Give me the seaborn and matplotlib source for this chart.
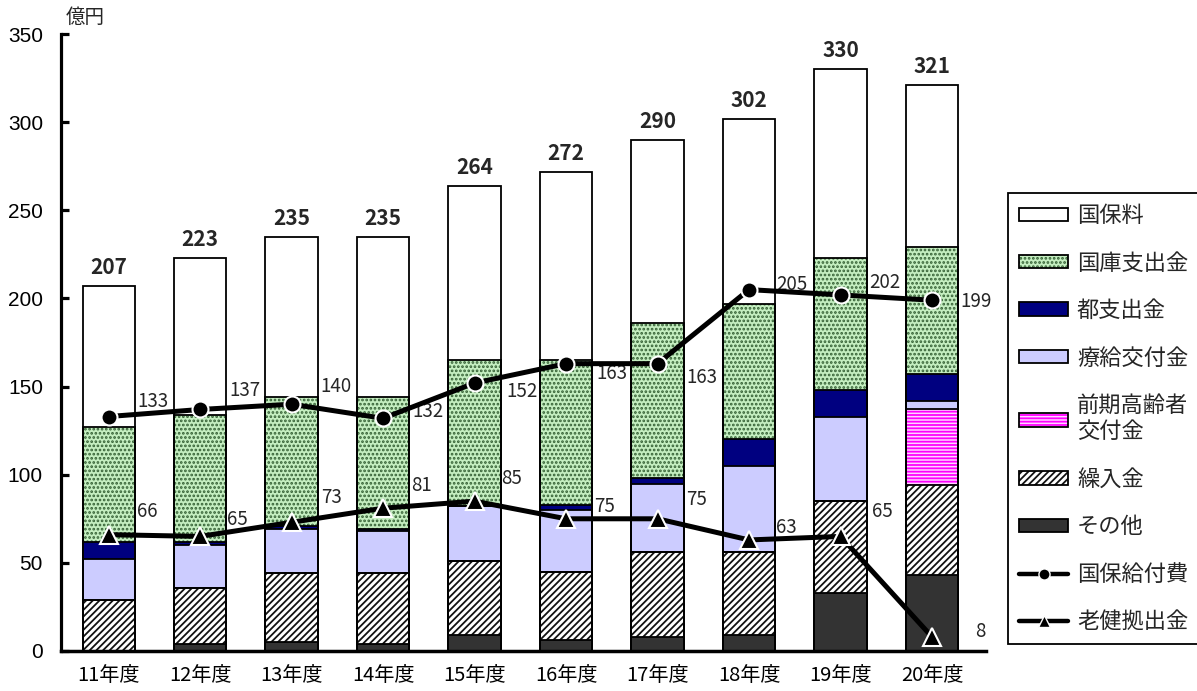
import numpy as np
import matplotlib
matplotlib.use("Agg")
import matplotlib.pyplot as plt
import seaborn as sns
from matplotlib.patches import Patch
from matplotlib.lines import Line2D
from matplotlib.legend_handler import HandlerTuple

# ---- data (億円) ----
years = ["11年度", "12年度", "13年度", "14年度", "15年度",
         "16年度", "17年度", "18年度", "19年度", "20年度"]
sonota = [0, 4, 5, 4, 9, 6, 8, 9, 33, 43]            # その他
kurikomi = [29, 32, 39, 40, 42, 39, 48, 47, 52, 51]  # 繰入金
zenki = [0, 0, 0, 0, 0, 0, 0, 0, 0, 43]              # 前期高齢者交付金
ryokyu = [23, 24, 25, 24, 31, 35, 39, 49, 48, 5]     # 療給交付金
to_shishutsu = [10, 2, 2, 1, 0, 3, 3, 15, 15, 15]    # 都支出金
kokko = [65, 72, 73, 75, 83, 82, 88, 77, 75, 72]     # 国庫支出金
kokuhoryo = [80, 89, 91, 91, 99, 107, 104, 105, 107, 92]  # 国保料
totals = [207, 223, 235, 235, 264, 272, 290, 302, 330, 321]
kyufuhi = [133, 137, 140, 132, 152, 163, 163, 205, 202, 199]  # 国保給付費
roken = [66, 65, 73, 81, 85, 75, 75, 63, 65, 8]               # 老健拠出金

# label offsets (points) for the line value labels
kyufuhi_off = [(32, 11), (32, 14), (32, 13), (32, 5), (34, -6), (33, -7),
               (32, -10), (31, 4), (32, 9), (32, -1)]
roken_off = [(28, 17), (27, 12), (29, 18), (28, 16), (27, 16), (28, 9),
             (28, 14), (27, 9), (30, 18), (35, 4)]

sns.set_theme(style="white")
plt.rcParams["font.family"] = ["Noto Sans CJK JP", "DejaVu Sans"]
plt.rcParams["hatch.linewidth"] = 1.3

fig = plt.figure(figsize=(11.97, 6.91), dpi=100)
ax = fig.add_axes([61 / 1197, 1 - 651 / 691, (986 - 61) / 1197, (651 - 34) / 691])

layers = [
    dict(label="その他", vals=sonota, face="#333333", hatch=None, hc=None),
    dict(label="繰入金", vals=kurikomi, face="white", hatch="/////", hc="#111111"),
    dict(label="前期高齢者\n交付金", vals=zenki, face="#ffd6ff", hatch="-----", hc="#ff00ff"),
    dict(label="療給交付金", vals=ryokyu, face="#ccccff", hatch=None, hc=None),
    dict(label="都支出金", vals=to_shishutsu, face="#000080", hatch=None, hc=None),
    dict(label="国庫支出金", vals=kokko, face="#c4eec0", hatch="....", hc="#335f33"),
    dict(label="国保料", vals=kokuhoryo, face="white", hatch=None, hc=None),
]

cum = np.cumsum(np.array([l["vals"] for l in layers], dtype=float), axis=0)
bar_w = 0.57

# filled segments: tallest cumulative first, each covering the part below
for k in reversed(range(len(layers))):
    l = layers[k]
    n0 = len(ax.patches)
    sns.barplot(x=years, y=cum[k], color=l["face"], saturation=1,
                width=bar_w, edgecolor=l["hc"] or l["face"], linewidth=0,
                errorbar=None, ax=ax, zorder=2)
    if l["hatch"]:
        for p in ax.patches[n0:]:
            p.set_hatch(l["hatch"])

# segment outlines
for k in range(len(layers)):
    sns.barplot(x=years, y=cum[k], color="black", fill=False, saturation=1,
                width=bar_w, linewidth=1.3, errorbar=None, ax=ax, zorder=3)

xpos = np.arange(len(years))

# benefit / contribution lines
sns.lineplot(x=xpos, y=kyufuhi, color="black", lw=3.6, marker="o", markersize=11.5,
             markerfacecolor="black", markeredgecolor="white", markeredgewidth=1.5,
             ax=ax, zorder=5, legend=False)
sns.lineplot(x=xpos, y=roken, color="black", lw=3.6, marker="^", markersize=13,
             markerfacecolor="black", markeredgecolor="white", markeredgewidth=1.5,
             ax=ax, zorder=5, legend=False)

for i, v in enumerate(kyufuhi):
    ax.annotate(str(v), (i, v), xytext=kyufuhi_off[i], textcoords="offset points",
                ha="center", va="center", fontsize=13.5, zorder=1)
for i, v in enumerate(roken):
    ax.annotate(str(v), (i, v), xytext=roken_off[i], textcoords="offset points",
                ha="center", va="center", fontsize=13.5, zorder=1)

# bar totals
for i, t in enumerate(totals):
    ax.annotate(str(t), (i, cum[-1][i]), xytext=(0, 8.5), textcoords="offset points",
                ha="center", va="baseline", fontsize=15, fontweight="bold", zorder=6)

ax.set_xlim(-0.52, 9.59)
ax.set_ylim(0, 350)
ax.set_yticks(np.arange(0, 351, 50))
ax.set_xlabel("")
ax.set_ylabel("")
ax.grid(False)
for s in ["top", "right"]:
    ax.spines[s].set_visible(False)
ax.spines["left"].set_linewidth(2.3)
ax.spines["bottom"].set_linewidth(2.5)
ax.spines["left"].set_color("black")
ax.spines["bottom"].set_color("black")
ax.tick_params(axis="y", direction="in", length=6, width=2.3, pad=13, left=True,
               labelsize=15, colors="black")
ax.tick_params(axis="x", length=0, pad=10, labelsize=14.5, colors="black")
for t in ax.get_yticklabels():
    t.set_fontfamily(["Liberation Sans", "DejaVu Sans"])

fig.text(66 / 1197, 1 - 17 / 691, "億円", ha="left", va="center", fontsize=14)

# legend
def seg_handle(l):
    if l["hatch"]:
        return (Patch(facecolor=l["face"], edgecolor=l["hc"], hatch=l["hatch"], linewidth=0),
                Patch(facecolor="none", edgecolor="black", linewidth=1.3))
    return Patch(facecolor=l["face"], edgecolor="black", linewidth=1.3)

order = [6, 5, 4, 3, 2, 1, 0]
handles = [seg_handle(layers[k]) for k in order]
labels = [layers[k]["label"] for k in order]
handles += [Line2D([], [], color="black", lw=3.2, marker="o", markersize=8,
                   markerfacecolor="black", markeredgecolor="white", markeredgewidth=1),
            Line2D([], [], color="black", lw=3.2, marker="^", markersize=9,
                   markerfacecolor="black", markeredgecolor="white", markeredgewidth=1)]
labels += ["国保給付費", "老健拠出金"]

leg = fig.legend(handles, labels, loc="upper left",
                 bbox_to_anchor=(1008 / 1197, 1 - 193 / 691),
                 bbox_transform=fig.transFigure, borderaxespad=0,
                 fontsize=16, handlelength=2.2, handleheight=0.55,
                 handletextpad=0.4, labelspacing=1.1, borderpad=0.5,
                 frameon=True, fancybox=False, framealpha=1,
                 handler_map={tuple: HandlerTuple(ndivide=1, pad=0)})
leg.get_frame().set_edgecolor("black")
leg.get_frame().set_linewidth(1.3)

fig.savefig("out.png", dpi=100, facecolor="white")
